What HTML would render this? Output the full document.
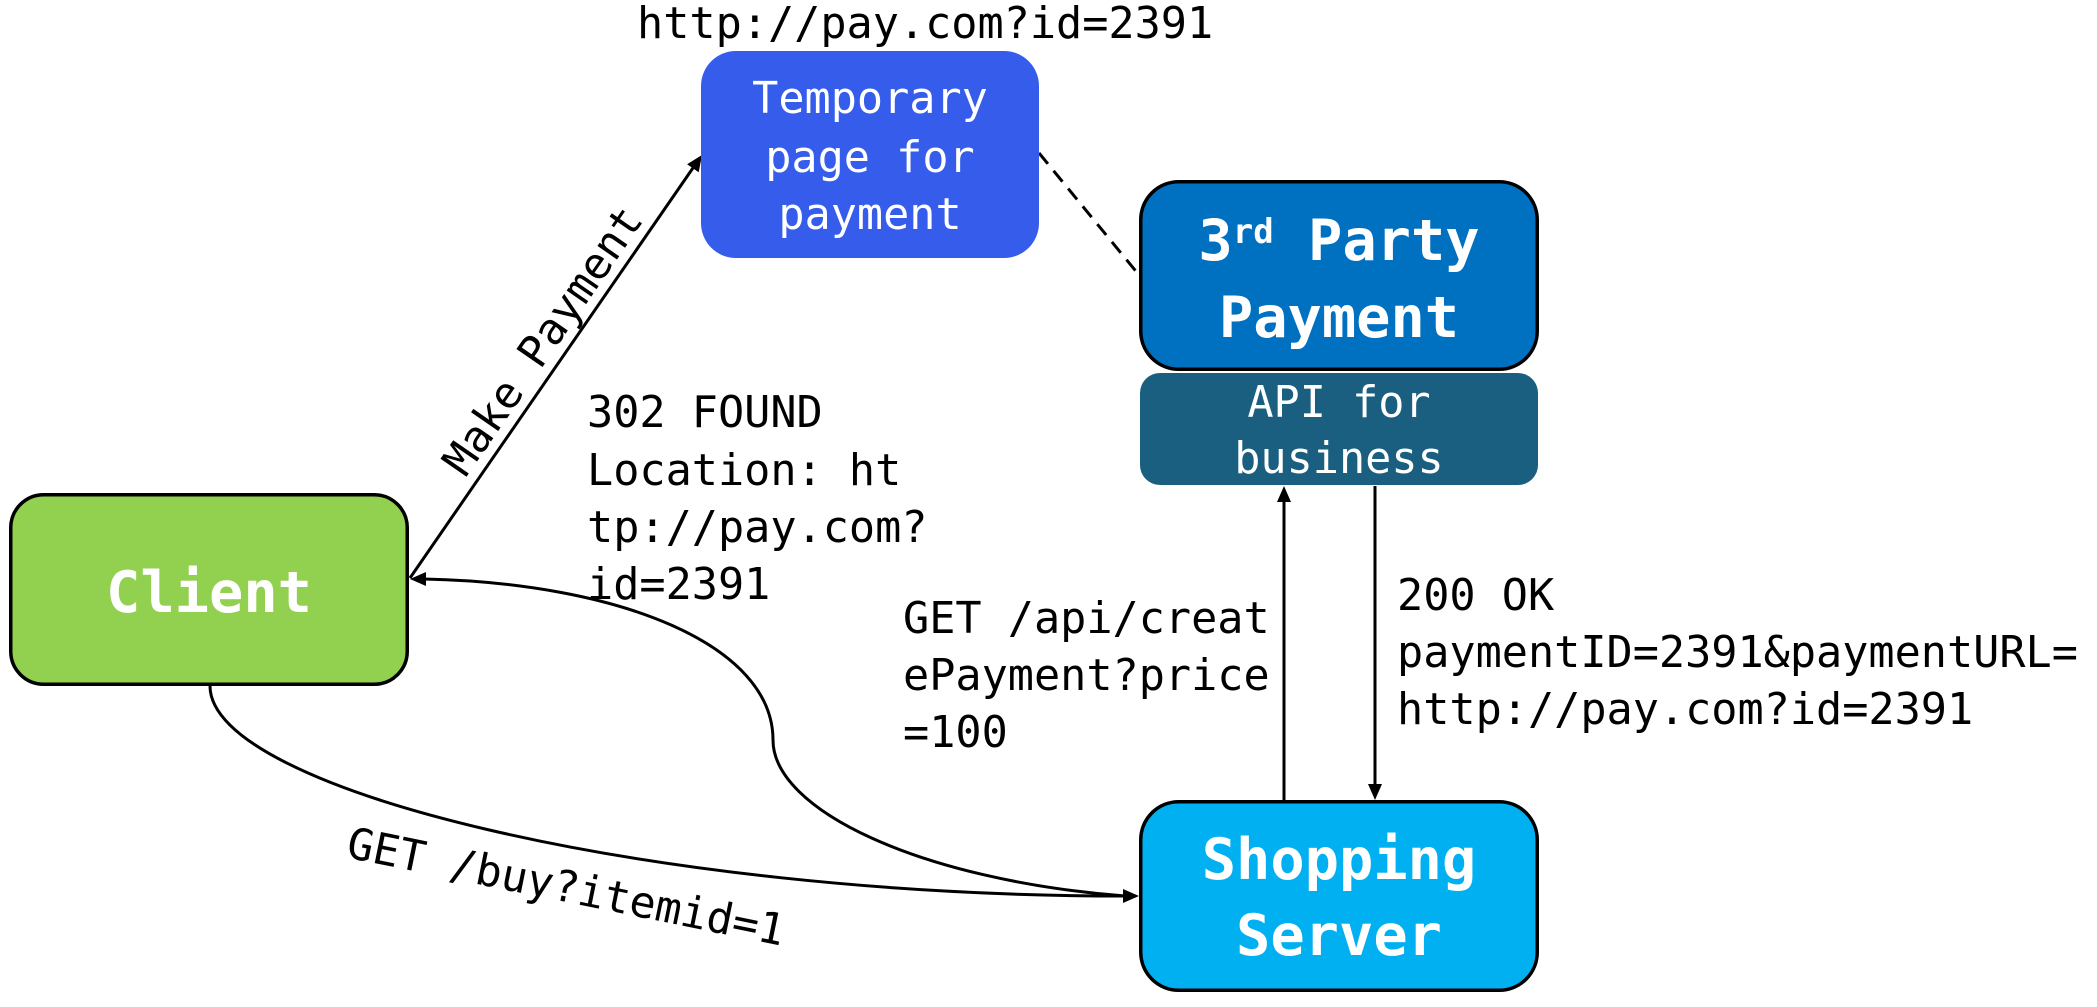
<!DOCTYPE html>
<html>
<head>
<meta charset="utf-8">
<style>
  html, body { margin: 0; padding: 0; background: #ffffff; }
  body { width: 2097px; height: 1007px; overflow: hidden; }
  svg { display: block; }
  .t { font-family: "DejaVu Sans Mono", "Liberation Mono", monospace; font-size: 43.5px; fill: #000; }
  .w { font-family: "DejaVu Sans Mono", "Liberation Mono", monospace; font-size: 43.5px; fill: #fff; }
  .b { font-family: "DejaVu Sans Mono", "Liberation Mono", monospace; font-size: 57px; font-weight: bold; fill: #fff; }
</style>
</head>
<body>
<svg width="2097" height="1007" viewBox="0 0 2097 1007" xmlns="http://www.w3.org/2000/svg">
  <rect x="0" y="0" width="2097" height="1007" fill="#ffffff"/>

  <!-- Connectors -->
  <!-- Make Payment line -->
  <line x1="410" y1="578" x2="695" y2="165" stroke="#000" stroke-width="3"/>
  <polygon points="702,155 698.7,172.2 687.1,164.2" fill="#000"/>

  <!-- dashed line -->
  <line x1="1039" y1="153" x2="1139" y2="275" stroke="#000" stroke-width="3" stroke-dasharray="14 9"/>

  <!-- Client -> Shopping (GET /buy) -->
  <path d="M210,686 C210,790 650,896 1125,896" fill="none" stroke="#000" stroke-width="3"/>

  <!-- Shopping -> Client (302) -->
  <path d="M424,579 C620,583 773,645 773,740 C773,810 920,880 1125,896" fill="none" stroke="#000" stroke-width="3"/>
  <polygon points="410,579 426,572 426,586" fill="#000"/>
  <polygon points="1139,896 1123,889 1123,903" fill="#000"/>

  <!-- vertical arrows -->
  <line x1="1284" y1="800" x2="1284" y2="500" stroke="#000" stroke-width="3"/>
  <polygon points="1284,486 1277,502 1291,502" fill="#000"/>
  <line x1="1375" y1="486" x2="1375" y2="786" stroke="#000" stroke-width="3"/>
  <polygon points="1375,800 1368,784 1382,784" fill="#000"/>

  <!-- Boxes -->
  <rect x="701" y="51" width="338" height="207" rx="35" ry="35" fill="#365CEB"/>
  <rect x="1140.75" y="181.75" width="396.5" height="187.5" rx="38" ry="38" fill="#0070C0" stroke="#000" stroke-width="3.5"/>
  <rect x="1140" y="373" width="398" height="112" rx="20" ry="20" fill="#1A5F80"/>
  <rect x="10.75" y="494.75" width="396.5" height="189.5" rx="33" ry="33" fill="#92D050" stroke="#000" stroke-width="3.5"/>
  <rect x="1140.75" y="801.75" width="396.5" height="188.5" rx="38" ry="38" fill="#00B0F0" stroke="#000" stroke-width="3.5"/>

  <!-- Box texts -->
  <text class="w" x="870" y="113" text-anchor="middle">Temporary</text>
  <text class="w" x="870" y="172" text-anchor="middle">page for</text>
  <text class="w" x="870" y="229" text-anchor="middle">payment</text>

  <text class="b" x="1339" y="260" text-anchor="middle">3<tspan font-size="34" dy="-17">rd</tspan><tspan dy="17"> Party</tspan></text>
  <text class="b" x="1339" y="337" text-anchor="middle">Payment</text>

  <text class="w" x="1339" y="417" text-anchor="middle">API for</text>
  <text class="w" x="1339" y="473" text-anchor="middle">business</text>

  <text class="b" x="209" y="612" text-anchor="middle">Client</text>

  <text class="b" x="1339" y="879" text-anchor="middle">Shopping</text>
  <text class="b" x="1339" y="955" text-anchor="middle">Server</text>

  <!-- Labels -->
  <text class="t" x="637" y="38">http://pay.com?id=2391</text>

  <text class="t" x="587" y="427">302 FOUND</text>
  <text class="t" x="587" y="485">Location: ht</text>
  <text class="t" x="587" y="542">tp://pay.com?</text>
  <text class="t" x="587" y="599">id=2391</text>

  <text class="t" x="903" y="633">GET /api/creat</text>
  <text class="t" x="903" y="690">ePayment?price</text>
  <text class="t" x="903" y="747">=100</text>

  <text class="t" x="1397" y="610">200 OK</text>
  <text class="t" x="1397" y="667">paymentID=2391&amp;paymentURL=</text>
  <text class="t" x="1397" y="724">http://pay.com?id=2391</text>

  <text class="t" x="555" y="349" text-anchor="middle" transform="rotate(-55.3 555 349)">Make Payment</text>

  <text class="t" x="345" y="857" transform="rotate(11.5 345 857)">GET /buy?itemid=1</text>
</svg>
</body>
</html>
